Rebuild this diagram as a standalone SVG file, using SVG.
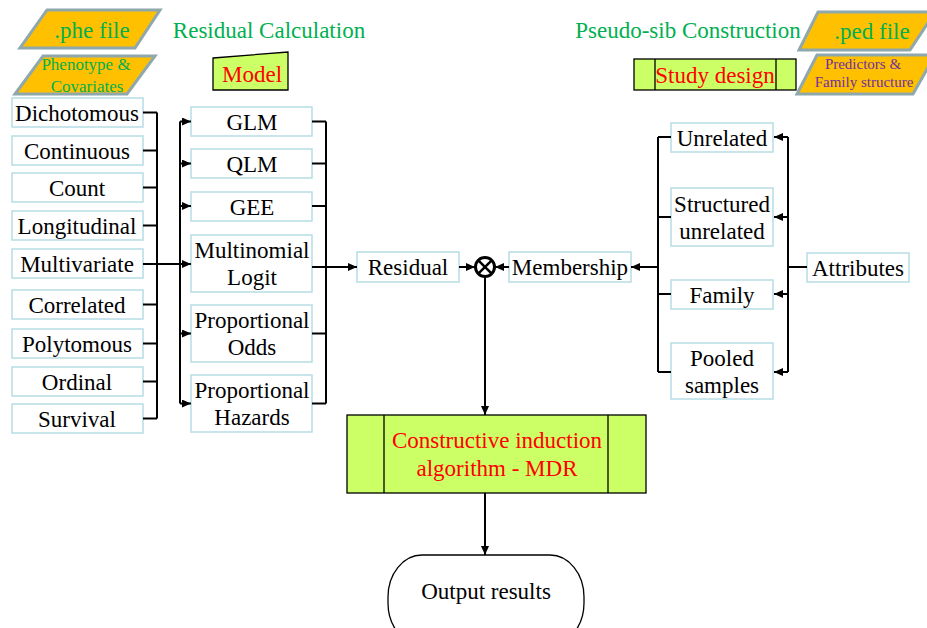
<svg xmlns="http://www.w3.org/2000/svg" width="927" height="628" viewBox="0 0 927 628" font-family="'Liberation Serif', 'DejaVu Serif', serif">
<style>
text{font-family:'Liberation Serif','DejaVu Serif',serif;font-size:23px;fill:#000;text-anchor:middle}
.box{fill:#fff;stroke:#b7dde6;stroke-width:1.5}
.file{fill:#ffc000;stroke:#8ea8ae;stroke-width:3;stroke-linejoin:miter}
.lime{fill:#ccff66;stroke:#000;stroke-width:1.3}
.green{fill:#00b050}
.red{fill:#ff0000}
.purple{fill:#7030a0}
.ln{stroke:#000;stroke-width:2;fill:none}
.arr{stroke:#000;stroke-width:2;fill:none;marker-end:url(#ah)}
</style>
<defs>
<marker id="ah" markerUnits="userSpaceOnUse" markerWidth="10" markerHeight="8" refX="9" refY="4" orient="auto">
<path d="M0,0 L9,4 L0,8 Z" fill="#000"/>
</marker>
</defs>
<rect width="927" height="628" fill="#fff"/>

<g id="phe-file"><polygon class="file" points="47,10 160,10 135,48 20,48"/><text class="green" x="92" y="38">.phe file</text></g>
<g id="phenotype"><polygon class="file" points="43,56 155,56 127,94 15,94"/><text class="green" x="86" y="70" style="font-size:17px">Phenotype &amp;</text><text class="green" x="87" y="92" style="font-size:17px">Covariates</text></g>
<g id="title-residual"><text class="green" x="269" y="38">Residual Calculation</text></g>
<g id="model"><polygon class="lime" points="213,58 288,52 288,90 213,90"/><text class="red" x="252" y="82">Model</text></g>

<g id="title-pseudo"><text class="green" x="688" y="38">Pseudo-sib Construction</text></g>
<g id="ped-file"><polygon class="file" points="818,12 935,12 910,50 799,50"/><text class="green" x="872" y="39">.ped file</text></g>
<g id="study-design"><rect class="lime" x="634" y="59" width="162" height="31"/><line class="lime" x1="655" y1="59" x2="655" y2="90"/><line class="lime" x1="776" y1="59" x2="776" y2="90"/><text class="red" x="715" y="83">Study design</text></g>
<g id="predictors"><polygon class="file" points="817,55 935,55 913,94 797,94"/><text class="purple" x="863" y="69" style="font-size:15px">Predictors &amp;</text><text class="purple" x="864" y="87" style="font-size:15px">Family structure</text></g>

<g id="dichotomous"><rect class="box" x="12" y="98" width="131" height="29"/><text x="77" y="121">Dichotomous</text></g>
<g id="continuous"><rect class="box" x="12" y="136" width="131" height="29"/><text x="77" y="159">Continuous</text></g>
<g id="count"><rect class="box" x="12" y="173" width="131" height="29"/><text x="77" y="196">Count</text></g>
<g id="longitudinal"><rect class="box" x="12" y="211" width="131" height="29"/><text x="77" y="234">Longitudinal</text></g>
<g id="multivariate"><rect class="box" x="12" y="249" width="131" height="29"/><text x="77" y="272">Multivariate</text></g>
<g id="correlated"><rect class="box" x="12" y="290" width="131" height="29"/><text x="77" y="313">Correlated</text></g>
<g id="polytomous"><rect class="box" x="12" y="329" width="131" height="29"/><text x="77" y="352">Polytomous</text></g>
<g id="ordinal"><rect class="box" x="12" y="367" width="131" height="29"/><text x="77" y="390">Ordinal</text></g>
<g id="survival"><rect class="box" x="12" y="404" width="131" height="29"/><text x="77" y="427">Survival</text></g>

<g id="glm"><rect class="box" x="191" y="107" width="121" height="29"/><text x="252" y="130">GLM</text></g>
<g id="qlm"><rect class="box" x="191" y="149" width="121" height="29"/><text x="252" y="172">QLM</text></g>
<g id="gee"><rect class="box" x="191" y="192" width="121" height="29"/><text x="252" y="215">GEE</text></g>
<g id="multinomial"><rect class="box" x="191" y="235" width="121" height="57"/><text x="252" y="258">Multinomial</text><text x="252" y="285">Logit</text></g>
<g id="prop-odds"><rect class="box" x="191" y="305" width="121" height="57"/><text x="252" y="328">Proportional</text><text x="252" y="355">Odds</text></g>
<g id="prop-hazards"><rect class="box" x="191" y="375" width="121" height="57"/><text x="252" y="398">Proportional</text><text x="252" y="425">Hazards</text></g>

<g id="residual"><rect class="box" x="357" y="252" width="102" height="30"/><text x="408" y="275">Residual</text></g>
<g id="combine"><circle cx="485" cy="267" r="9.5" fill="#fff" stroke="#000" stroke-width="3"/><line x1="478.3" y1="260.3" x2="491.7" y2="273.7" stroke="#000" stroke-width="2.5"/><line x1="491.7" y1="260.3" x2="478.3" y2="273.7" stroke="#000" stroke-width="2.5"/></g>
<g id="membership"><rect class="box" x="509" y="252" width="122" height="30"/><text x="570" y="275">Membership</text></g>

<g id="unrelated"><rect class="box" x="671" y="123" width="102" height="29"/><text x="722" y="146">Unrelated</text></g>
<g id="structured"><rect class="box" x="671" y="188" width="102" height="58"/><text x="722" y="212">Structured</text><text x="722" y="239">unrelated</text></g>
<g id="family"><rect class="box" x="671" y="280" width="102" height="29"/><text x="722" y="303">Family</text></g>
<g id="pooled"><rect class="box" x="671" y="343" width="102" height="56"/><text x="722" y="366">Pooled</text><text x="722" y="393">samples</text></g>
<g id="attributes"><rect class="box" x="807" y="253" width="102" height="29"/><text x="858" y="276">Attributes</text></g>

<g id="mdr"><rect class="lime" x="347" y="415" width="299" height="78"/><line class="lime" x1="384" y1="415" x2="384" y2="493"/><line class="lime" x1="608" y1="415" x2="608" y2="493"/><text class="red" x="497" y="448">Constructive induction</text><text class="red" x="497" y="476">algorithm - MDR</text></g>
<g id="output"><rect x="388" y="555" width="196" height="90" rx="34" ry="42" fill="#fff" stroke="#000" stroke-width="1.3"/><text x="486" y="599">Output results</text></g>

<g id="connectors">
<path class="ln" d="M143,112.5H157M143,150.5H157M143,187.5H157M143,225.5H157M143,304.5H157M143,343.5H157M143,381.5H157M143,418.5H157M157,112.5V418.5"/>
<line class="arr" x1="143" y1="264" x2="191" y2="264"/>
<path class="ln" d="M180,121.5V403.5"/>
<line class="arr" x1="180" y1="121.5" x2="191" y2="121.5"/>
<line class="arr" x1="180" y1="163.5" x2="191" y2="163.5"/>
<line class="arr" x1="180" y1="206" x2="191" y2="206"/>
<line class="arr" x1="180" y1="333.5" x2="191" y2="333.5"/>
<line class="arr" x1="180" y1="403.5" x2="191" y2="403.5"/>
<path class="ln" d="M312,121.5H326M312,163.5H326M312,206H326M312,333.5H326M312,403.5H326M326,121.5V403.5"/>
<line class="arr" x1="312" y1="267" x2="357" y2="267"/>
<line class="arr" x1="459" y1="267" x2="475" y2="267"/>
<line class="arr" x1="509" y1="267" x2="495" y2="267"/>
<line class="arr" x1="658" y1="267" x2="631" y2="267"/>
<path class="ln" d="M658,137H671M658,217H671M658,294H671M658,372H671M658,137V372"/>
<path class="ln" d="M788,137V372M788,267H807"/>
<line class="arr" x1="788" y1="137" x2="774" y2="137"/>
<line class="arr" x1="788" y1="217" x2="774" y2="217"/>
<line class="arr" x1="788" y1="294" x2="774" y2="294"/>
<line class="arr" x1="788" y1="372" x2="774" y2="372"/>
<line class="arr" x1="485" y1="277" x2="485" y2="415"/>
<line class="arr" x1="485" y1="493" x2="485" y2="555"/>
</g>
</svg>
